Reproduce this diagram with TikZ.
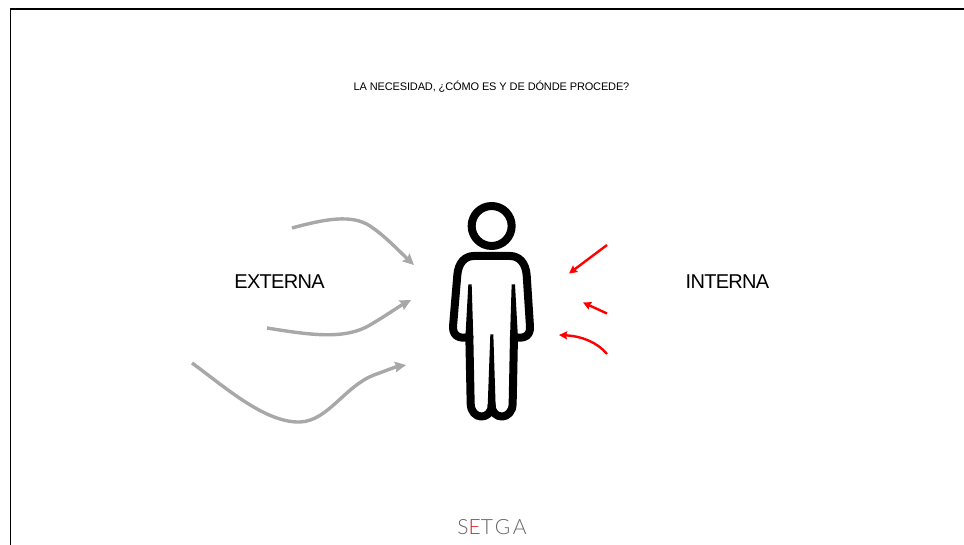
\documentclass[tikz,border=0pt]{standalone}
\usepackage{fontspec}
\usetikzlibrary{arrows.meta}
\setmainfont{Liberation Sans}
\newfontfamily\titlefont[LetterSpace=-1.3]{Liberation Sans}
\newfontfamily\sidefont[LetterSpace=-3.5]{Liberation Sans}
\newfontfamily\logofont[LetterSpace=13]{Lato Light}
\definecolor{arrowgrey}{HTML}{A8A8A8}
\definecolor{logogrey}{HTML}{66666B}
\definecolor{logored}{HTML}{E0202E}
\tikzset{
  x=1pt,y=-1pt,
  frame/.style={black,line width=2pt},
  frameleft/.style={black,line width=1.3pt},
  externo/.style={arrowgrey,line width=3.4pt,-{Stealth[length=11pt,width=10.5pt,inset=1.5pt]}},
  interno/.style={red,line width=2.4pt,-{Stealth[length=8pt,width=8pt,inset=1pt]}},
  figure/.style={black,line width=8pt,line join=round,line cap=round},
  sidelabel/.style={font=\fontsize{20}{24}\selectfont\sidefont,text=black,inner sep=0pt},
}
\begin{document}
\begin{tikzpicture}
\useasboundingbox (0,0) rectangle (964,545);
\fill[white] (0,0) rectangle (964,545);
\draw[frame] (10,9) -- (964,9);
\draw[frameleft] (10.5,9) -- (10.5,545);
\node[font=\fontsize{11}{13}\selectfont\titlefont,inner sep=0pt] (title) at (491.5,87) {LA NECESIDAD, ¿CÓMO ES Y DE DÓNDE PROCEDE?};
\node[sidelabel] (externa) at (279.5,281.5) {EXTERNA};
\node[sidelabel] (interna) at (727.5,281.5) {INTERNA};
\node[font=\fontsize{21}{24}\selectfont\logofont,text=logogrey,inner sep=0pt] (logo) at (492,527) {S\textcolor{logored}{E}TGA};
% person
\begin{scope}[shift={(430pt,-190pt)},x=.3333pt,y=-.3333pt]
  \draw[figure] (185,108) circle (60);
  \draw[figure] (118,440) .. controls (100,446) and (68,446) .. (69,410)
     -- (82,255) .. controls (85,218) and (105,198) .. (132,198)
     -- (240,198) .. controls (267,198) and (287,218) .. (290,255)
     -- (300,410) .. controls (302,446) and (270,446) .. (252,440);
  \draw[figure] (118,440) -- (122,640) .. controls (122,692) and (185,692) .. (185,645)
     .. controls (185,692) and (248,692) .. (248,640) -- (252,440);
  \fill (115,283) -- (125,283) -- (130,445) -- (106,445) -- cycle;
  \fill (245,283) -- (255,283) -- (264,445) -- (240,445) -- cycle;
  \fill (181,433) -- (190,433) -- (197,650) -- (173,650) -- cycle;
\end{scope}
% external arrows
\coordinate (e1s) at (292,228); \coordinate (e1t) at (414,265);
\coordinate (e2s) at (267,328); \coordinate (e2t) at (411,300);
\coordinate (e3s) at (192,363); \coordinate (e3t) at (406,365);
\draw[externo] (e1s) .. controls (325,219) and (352,214) .. (370,226) .. controls (385,236) and (398,250) .. (e1t);
\draw[externo] (e2s) .. controls (310,335) and (345,340) .. (370,325) .. controls (387,315) and (398,307) .. (e2t);
\draw[externo] (e3s) .. controls (225,387) and (265,423) .. (300,422) .. controls (328,421) and (345,386) .. (374,375) .. controls (385,371) and (395,367) .. (e3t);
% internal arrows
\coordinate (i1s) at (607,245); \coordinate (i1t) at (569,273.5);
\coordinate (i2s) at (607,313.5); \coordinate (i2t) at (583,302.5);
\coordinate (i3s) at (607,354); \coordinate (i3t) at (559,335);
\draw[interno] (i1s) -- (i1t);
\draw[interno] (i2s) -- (i2t);
\draw[interno] (i3s) .. controls (597,342) and (581,336) .. (i3t);
\end{tikzpicture}
\end{document}
